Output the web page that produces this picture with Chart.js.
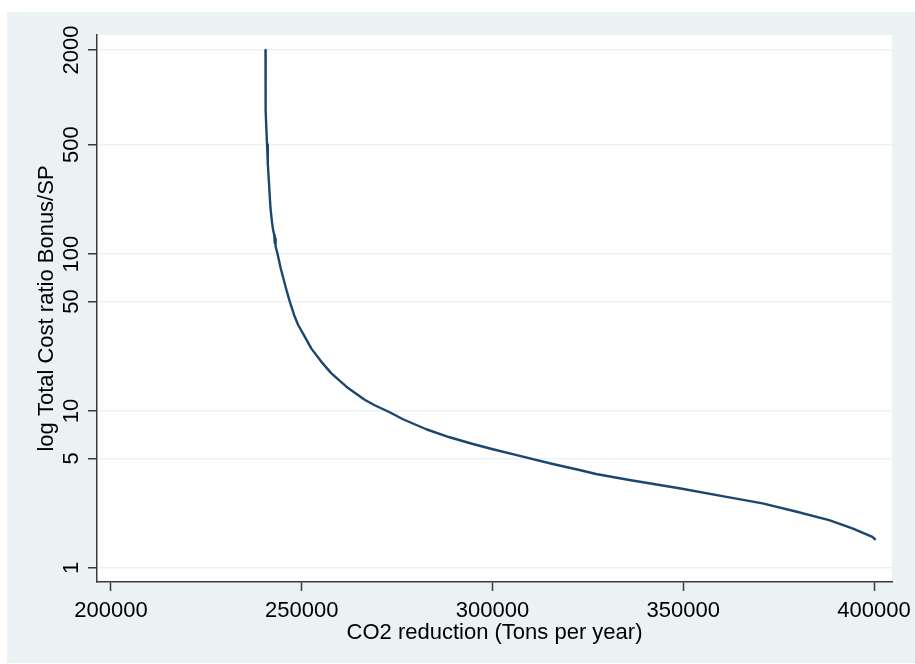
<!DOCTYPE html>
<html>
<head>
<meta charset="utf-8">
<title>CO2 reduction vs cost ratio</title>
<script src="https://cdn.jsdelivr.net/npm/chart.js@4.4.1/dist/chart.umd.min.js"></script>
<style>
    html, body { margin: 0; padding: 0; background: #ffffff; }
    #wrap { width: 915px; height: 664px; }
</style>
</head>
<body>
<div id="wrap"><canvas id="curveChart" width="915" height="664"></canvas></div>
<script>
// Values
const co2Reduction = [
    240500, 240510, 240540, 240520, 240560, 240700, 240900, 241100, 241360, 241800,
    242200, 242490, 242800, 242930, 243050, 243150, 243630, 244500, 245990, 246860,
    247990, 249030, 250780, 252530, 255150, 257770, 261700, 263430, 266490, 269110,
    273040, 276530, 282640, 288740, 294850, 300090, 307940, 315790, 322770, 327140,
    335860, 348950, 362040, 370770, 379490, 388220, 394320, 399560, 400430
];
const costRatio = [
    2000, 1750, 1300, 1000, 830, 650, 500, 380, 297, 197,
    160, 143, 132, 118, 126, 112, 101, 81, 59.1, 49.8,
    41.0, 35.5, 29.8, 25.0, 20.6, 17.4, 14.3, 13.35, 11.8, 10.9,
    9.83, 8.87, 7.66, 6.81, 6.17, 5.71, 5.12, 4.60, 4.21, 3.97,
    3.64, 3.22, 2.82, 2.58, 2.29, 2.02, 1.79, 1.58, 1.51
];
const xTicks = [200000, 250000, 300000, 350000, 400000];
const yTicks = [1, 5, 10, 50, 100, 500, 2000];

const COLORS = {
    outer: '#eaf2f3',
    plot: '#ffffff',
    grid: '#eaf2f3',
    axis: '#3a3a3a',
    line: '#1a476f',
    text: '#000000'
};
const FONT = "'Liberation Sans', Arial, sans-serif";

// Stata-like background: light panel with a white plot region
const backgroundPlugin = {
    id: 'stataBackground',
    beforeDraw(chart) {
        const { ctx, chartArea } = chart;
        ctx.save();
        ctx.fillStyle = '#ffffff';
        ctx.fillRect(0, 0, chart.width, chart.height);
        ctx.fillStyle = COLORS.outer;
        ctx.fillRect(7, 12, chart.width - 7, chart.height - 13);
        ctx.fillStyle = COLORS.plot;
        ctx.fillRect(chartArea.left, chartArea.top,
            chartArea.right - chartArea.left, chartArea.bottom - chartArea.top);
        ctx.restore();
    }
};

const points = co2Reduction.map((x, i) => ({ x: x, y: costRatio[i] }));

new Chart(document.getElementById('curveChart').getContext('2d'), {
    type: 'line',
    data: {
        datasets: [{
            data: points,
            borderColor: COLORS.line,
            borderWidth: 2.4,
            borderJoinStyle: 'round',
            pointRadius: 0,
            tension: 0,
            fill: false
        }]
    },
    options: {
        responsive: false,
        animation: false,
        devicePixelRatio: 1,
        layout: { padding: { left: 0, top: 35, right: 23, bottom: 0 } },
        plugins: {
            legend: { display: false },
            tooltip: { enabled: false }
        },
        scales: {
            x: {
                type: 'linear',
                min: 196335,
                max: 404700,
                afterBuildTicks: scale => { scale.ticks = xTicks.map(v => ({ value: v })); },
                afterFit: scale => {
                    scale.height = 82;
                    scale.paddingLeft = 0;
                    scale.paddingRight = 0;
                },
                grid: {
                    drawOnChartArea: false,
                    drawTicks: true,
                    tickLength: 9,
                    tickColor: COLORS.axis,
                    tickWidth: 1.5
                },
                border: { color: COLORS.axis, width: 1.5 },
                ticks: {
                    color: COLORS.text,
                    font: { family: FONT, size: 22 },
                    padding: 7,
                    maxRotation: 0,
                    autoSkip: false,
                    callback: v => String(v)
                },
                title: {
                    display: true,
                    text: 'CO2 reduction (Tons per year)',
                    color: COLORS.text,
                    font: { family: FONT, size: 22 },
                    padding: { top: 0, bottom: 18 }
                }
            },
            y: {
                type: 'logarithmic',
                min: 0.814,
                max: 2495,
                afterBuildTicks: scale => { scale.ticks = yTicks.map(v => ({ value: v })); },
                afterFit: scale => {
                    scale.width = 97;
                    scale.paddingTop = 0;
                    scale.paddingBottom = 0;
                },
                grid: {
                    color: COLORS.grid,
                    lineWidth: 1.5,
                    drawTicks: true,
                    tickLength: 9,
                    tickColor: COLORS.axis,
                    tickWidth: 1.5
                },
                border: { color: COLORS.axis, width: 1.5 },
                ticks: {
                    color: COLORS.text,
                    font: { family: FONT, size: 22 },
                    minRotation: 90,
                    maxRotation: 90,
                    crossAlign: 'center',
                    padding: -8,
                    autoSkip: false,
                    callback: v => String(v)
                },
                title: {
                    display: true,
                    text: 'log Total Cost ratio Bonus/SP',
                    color: COLORS.text,
                    font: { family: FONT, size: 22 },
                    padding: { top: 34, bottom: 0 }
                }
            }
        }
    },
    plugins: [backgroundPlugin]
});
</script>
</body>
</html>
